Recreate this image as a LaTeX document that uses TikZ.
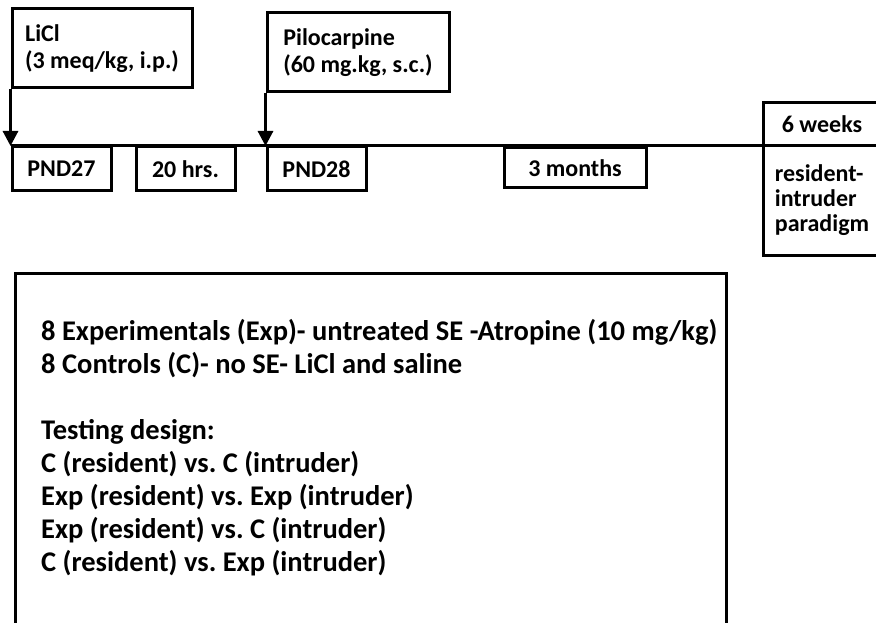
\documentclass[tikz,border=0pt]{standalone}
\usepackage{fontspec}
\setmainfont{Carlito}
\frenchspacing
\usetikzlibrary{arrows.meta}
\begin{document}
\begin{tikzpicture}[x=1pt,y=-1pt,
  box/.style={draw, line width=3pt, inner sep=0pt, font=\bfseries\fontsize{24}{27}\selectfont},
  tinybox/.style={box, minimum width=99pt, minimum height=44pt},
  bigtext/.style={inner sep=0pt, align=left, font=\bfseries\fontsize{28.5}{33}\selectfont},
  drug/.style={line width=3pt, -{Triangle[width=15pt,length=15pt]}}]
\useasboundingbox (0,0) rectangle (876,623);
% timeline
\coordinate (tl0) at (11,146);
\coordinate (tl1) at (890,146);
\draw[line width=3pt] (tl0) -- (tl1);
% injection boxes
\node[box, minimum width=180pt, minimum height=79pt, align=left] (licl) at (102,48.5) {LiCl\\(3 meq/kg, i.p.)};
\node[box, minimum width=182pt, minimum height=79pt, align=left] (pilo) at (358,52.5) {Pilocarpine\\(60 mg.kg, s.c.)};
\draw[drug] (licl.south west) -- (licl.south west |- tl0);
\draw[drug] (pilo.south west) -- (pilo.south west |- tl0);
% timeline labels
\node[tinybox] (pnd27) at (61.5,169) {PND27};
\node[tinybox] (hrs) at (185.5,169) {20 hrs.};
\node[tinybox] (pnd28) at (316.5,169) {PND28};
\node[box, minimum width=142pt, minimum height=40pt] (months) at (575,168) {3 months};
\node[box, minimum width=118pt, minimum height=43pt] (weeks) at (822,124.5) {6 weeks};
\node[box, minimum width=118pt, minimum height=109pt, align=left, font=\bfseries\fontsize{24}{25}\selectfont] (ri) at (822,200.5) {resident-\\intruder\\paradigm};
% design box
\node[draw, line width=3pt, minimum width=711pt, minimum height=380pt, inner sep=0pt] (design) at (370.5,463) {};
\node[bigtext, anchor=north west] (groups) at (41,319) {8 Experimentals (Exp)- untreated SE -Atropine (10 mg/kg)\\8 Controls (C)- no SE- LiCl and saline\\[33pt]Testing design:\\C (resident) vs. C (intruder)\\Exp (resident) vs. Exp (intruder)\\Exp (resident) vs. C (intruder)\\C (resident) vs. Exp (intruder)};
\end{tikzpicture}
\end{document}
